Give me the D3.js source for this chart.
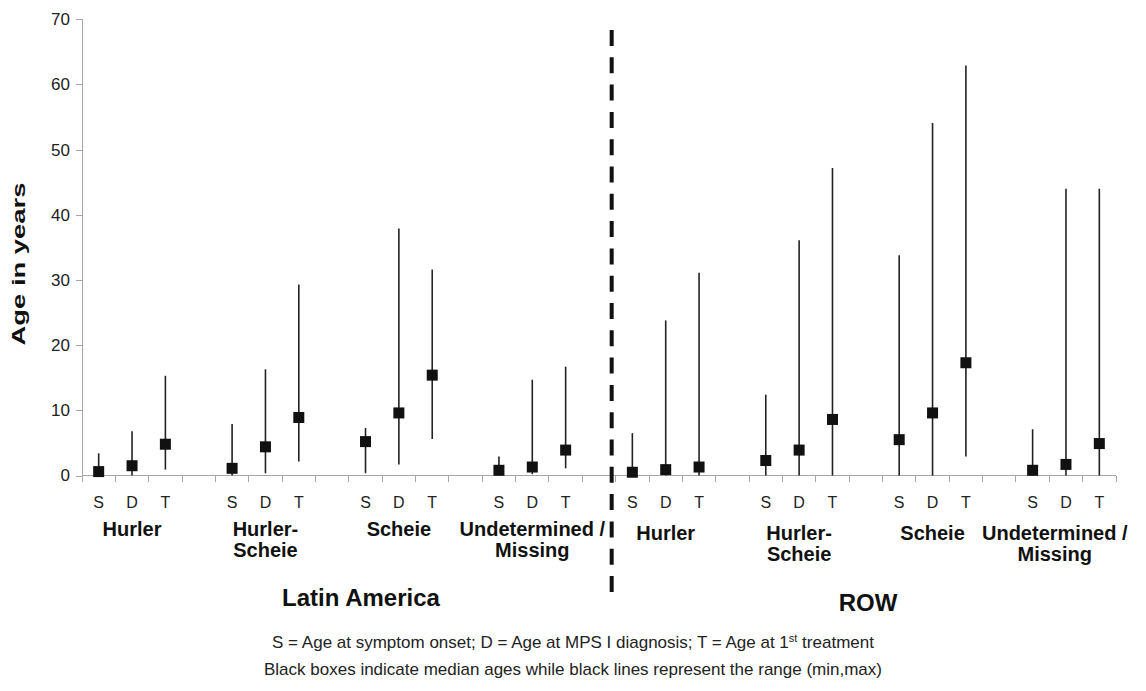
<!DOCTYPE html>
<html lang="en">
<head>
    <meta charset="UTF-8">
    <title>Age at symptom onset, diagnosis and first treatment</title>
    <script src="https://d3js.org/d3.v7.min.js"></script>
    <style>
        body {
            margin: 0;
            padding: 0;
            background: #fff;
            font-family: "Liberation Sans", Arial, Helvetica, sans-serif;
        }
        .axis path, .axis line {
            stroke: #a6a6a6;
            shape-rendering: crispEdges;
        }
        .axis text {
            font-family: "Liberation Sans", Arial, sans-serif;
            font-size: 17px;
            fill: #222;
        }
        .range { stroke: #222; stroke-width: 1.6px; }
        .median { fill: #111; }
        .sub { font-size: 16px; fill: #222; text-anchor: middle; }
        .group { font-size: 20px; font-weight: bold; fill: #111; text-anchor: middle; }
        .region { font-size: 24px; font-weight: bold; fill: #111; text-anchor: middle; }
        .note { font-size: 17px; fill: #222; text-anchor: middle; }
    </style>
</head>
<body>
<div id="canvas"></div>
<script>
    // data (years)
    var regions = ["Latin America", "ROW"];
    var subtypes = [["Hurler"], ["Hurler-", "Scheie"], ["Scheie"], ["Undetermined /", "Missing"]];
    var measures = ["S", "D", "T"];
    var yTicks = [0, 10, 20, 30, 40, 50, 60, 70];

    // one value per subtype x measure (S, D, T)
    var laMedian = [0.6, 1.5, 4.8, 1.1, 4.4, 8.9, 5.2, 9.6, 15.4, 0.8, 1.3, 3.9];
    var laMin    = [0, 0, 0.9, 0, 0.35, 2.15, 0.35, 1.7, 5.6, 0, 0.2, 1.1];
    var laMax    = [3.4, 6.8, 15.3, 7.9, 16.3, 29.3, 7.3, 37.9, 31.6, 2.9, 14.7, 16.7];
    var rowMedian = [0.5, 0.9, 1.3, 2.3, 3.9, 8.6, 5.5, 9.6, 17.3, 0.8, 1.7, 4.9];
    var rowMin    = [0, 0, 0, 0, 0, 0, 0, 0, 2.9, 0, 0, 0];
    var rowMax    = [6.5, 23.8, 31.1, 12.4, 36.1, 47.2, 33.8, 54.1, 62.9, 7.1, 44.0, 44.0];

    var medians = [laMedian, rowMedian],
        mins = [laMin, rowMin],
        maxs = [laMax, rowMax];

    var W = 1146, H = 691;
    var plotLeft = 82, plotRight = 1116, plotTop = 19.3, plotBottom = 475.5;

    // build the category slots: S D T + an empty slot between groups
    var slots = [], points = [];
    regions.forEach(function(r, ri) {
        subtypes.forEach(function(s, si) {
            measures.forEach(function(m, mi) {
                var key = ri + "-" + si + "-" + m;
                slots.push(key);
                var k = si * 3 + mi;
                points.push({key: key, m: m, median: medians[ri][k], min: mins[ri][k], max: maxs[ri][k]});
            });
            if (!(ri == regions.length - 1 && si == subtypes.length - 1)) slots.push(ri + "-" + si + "-gap");
        });
    });

    var svg = d3.select("#canvas").append("svg")
        .attr("width", W)
        .attr("height", H);

    var x = d3.scaleBand().domain(slots).range([plotLeft, plotRight]).padding(0);
    var y = d3.scaleLinear().domain([0, 70]).range([plotBottom, plotTop]);

    // y axis
    var yAxis = svg.append("g")
        .attr("class", "axis")
        .attr("transform", "translate(" + plotLeft + ",0)")
        .call(d3.axisLeft(y).tickValues(yTicks).tickSizeOuter(0).tickSize(6).tickPadding(6));
    yAxis.select(".domain").attr("d", "M0," + plotTop + "V" + (plotBottom + 6));

    // x axis line with ticks on the slot boundaries
    var xg = svg.append("g").attr("class", "axis");
    xg.append("line")
        .attr("x1", plotLeft).attr("x2", plotRight)
        .attr("y1", plotBottom).attr("y2", plotBottom);
    var bounds = slots.map(function(s) { return x(s); }).concat([plotRight]);
    xg.selectAll(".xt").data(bounds).enter().append("line")
        .attr("class", "xt")
        .attr("x1", function(d) { return d; }).attr("x2", function(d) { return d; })
        .attr("y1", plotBottom).attr("y2", plotBottom + 6);

    // ranges and medians
    var half = x.bandwidth() / 2;
    svg.selectAll(".range").data(points).enter().append("line")
        .attr("class", "range")
        .attr("x1", function(d) { return x(d.key) + half; })
        .attr("x2", function(d) { return x(d.key) + half; })
        .attr("y1", function(d) { return y(d.min); })
        .attr("y2", function(d) { return y(d.max); });

    var box = 11;
    svg.selectAll(".median").data(points).enter().append("rect")
        .attr("class", "median")
        .attr("x", function(d) { return x(d.key) + half - box / 2; })
        .attr("y", function(d) { return y(d.median) - box / 2; })
        .attr("width", box)
        .attr("height", box);

    // S / D / T labels
    svg.selectAll(".sub").data(points).enter().append("text")
        .attr("class", "sub")
        .attr("x", function(d) { return x(d.key) + half; })
        .attr("y", 508)
        .text(function(d) { return d.m; });

    // subtype labels, centred under D
    regions.forEach(function(r, ri) {
        subtypes.forEach(function(s, si) {
            var cx = x(ri + "-" + si + "-D") + half;
            var t = svg.append("text")
                .attr("class", "group")
                .attr("y", 536 + ri * 4);
            s.forEach(function(line, li) {
                t.append("tspan").attr("x", cx).attr("dy", li ? 21 : 0).text(line);
            });
            // keep the last label inside the chart
            var w = t.node().getBBox();
            if (w.x + w.width > 1130) t.selectAll("tspan").attr("x", cx - (w.x + w.width - 1128));
        });
    });

    // divider between the regions
    var divX = x("1-0-S") - 4;
    svg.append("line")
        .attr("x1", divX).attr("x2", divX)
        .attr("y1", 30).attr("y2", 592)
        .attr("stroke", "#111")
        .attr("stroke-width", 4)
        .attr("stroke-dasharray", "16,11.3");

    // region labels
    svg.append("text").attr("class", "region").attr("x", 361).attr("y", 606).text(regions[0]);
    svg.append("text").attr("class", "region").attr("x", 868).attr("y", 611).text(regions[1]);

    // y axis title (drawn long, as in the original)
    svg.append("text")
        .attr("transform", "translate(25,264) rotate(-90)")
        .attr("text-anchor", "middle")
        .attr("textLength", 163)
        .attr("lengthAdjust", "spacingAndGlyphs")
        .style("font-size", "19px")
        .style("font-weight", "bold")
        .style("fill", "#111")
        .text("Age in years");

    // notes
    var n1 = svg.append("text").attr("class", "note").attr("x", 573).attr("y", 648);
    n1.append("tspan").text("S = Age at symptom onset; D = Age at MPS I diagnosis; T = Age at 1");
    n1.append("tspan").attr("dy", -6).style("font-size", "11px").text("st");
    n1.append("tspan").attr("dy", 6).text(" treatment");
    svg.append("text").attr("class", "note").attr("x", 573).attr("y", 675)
        .text("Black boxes indicate median ages while black lines represent the range (min,max)");
</script>
</body>
</html>
